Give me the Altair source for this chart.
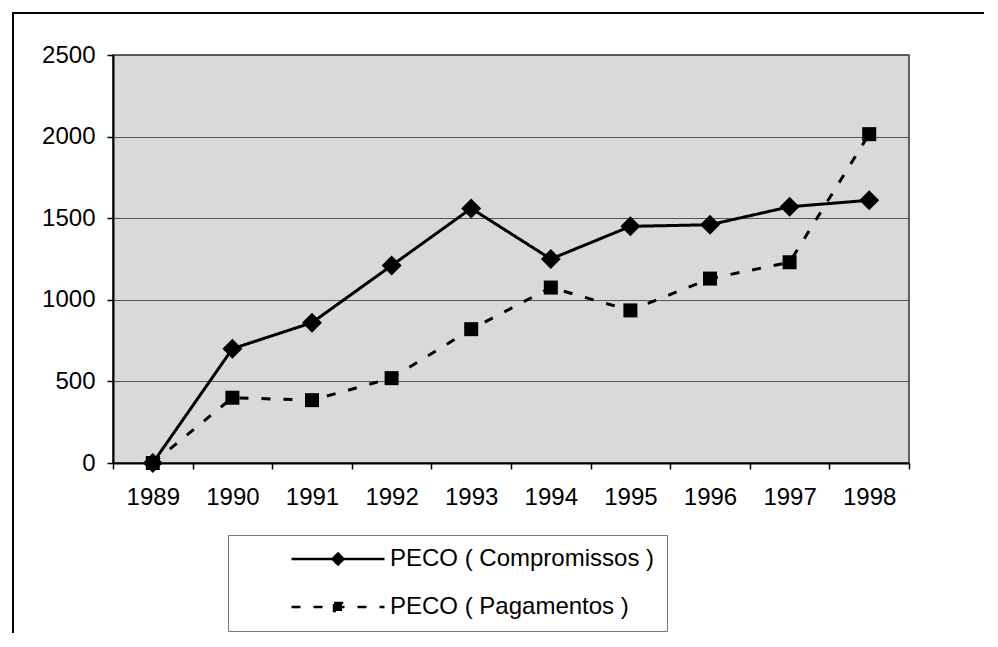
import altair as alt
import pandas as pd

# ---- data ----
years = ["1989", "1990", "1991", "1992", "1993", "1994", "1995", "1996", "1997", "1998"]
compromissos = [0, 700, 860, 1210, 1560, 1250, 1450, 1460, 1570, 1610]
pagamentos = [0, 400, 385, 520, 820, 1075, 935, 1130, 1230, 2015]
series_names = ["PECO ( Compromissos )", "PECO ( Pagamentos )"]
y_ticks = [0, 500, 1000, 1500, 2000, 2500]

rows = []
for name, vals in zip(series_names, [compromissos, pagamentos]):
    for yr, v in zip(years, vals):
        rows.append({"Ano": yr, "Serie": name, "Valor": v})
df = pd.DataFrame(rows)

FONT = "Liberation Sans"
FS = 24

x_enc = alt.X(
    "Ano:O",
    sort=years,
    scale=alt.Scale(type="band", paddingInner=0, paddingOuter=0),
    axis=alt.Axis(title=None, labelAngle=0, tickBand="extent", grid=False,
                  tickSize=6, labelPadding=16, domainWidth=2, tickWidth=1.5),
)
y_enc = alt.Y(
    "Valor:Q",
    scale=alt.Scale(domain=[0, 2500], nice=False),
    axis=alt.Axis(title=None, values=y_ticks, format="d", grid=True, tickSize=6,
                  labelPadding=12, domainWidth=2, tickWidth=1.5),
)

diamond_legend = "M-9.3,0L9.3,0M0,-1.1L1.1,0L0,1.1L-1.1,0Z"
square_legend = "M-9.3,0L9.3,0M-0.8,-0.8L0.8,-0.8L0.8,0.8L-0.8,0.8Z"
shape_expr = (
    f"datum.value === '{series_names[0]}' ? '{diamond_legend}' : '{square_legend}'"
)

legend = alt.Legend(
    title=None,
    orient="none",
    legendX=115,
    legendY=480,
    padding=12,
    rowPadding=24,
    symbolSize=100,
    symbolStrokeWidth=2.5,
    symbolOffset=86,
    labelOffset=40,
    labelFont=FONT,
    labelFontSize=FS,
    labelColor="black",
    labelLimit=500,
    strokeColor="#777777",
    fillColor="white",
    symbolType={"expr": shape_expr},
    symbolFillColor="black",
    symbolStrokeColor="black",
)

base = alt.Chart(df)

lines = base.mark_line(color="black", strokeWidth=3).encode(
    x=x_enc,
    y=y_enc,
    strokeDash=alt.StrokeDash(
        "Serie:N",
        sort=series_names,
        scale=alt.Scale(domain=series_names, range=[[1, 0], [9, 13]]),
        legend=legend,
    ),
)

pts_c = base.transform_filter(alt.datum.Serie == series_names[0]).mark_point(
    shape="diamond", size=400, filled=True, color="black", opacity=1
).encode(x=x_enc, y=y_enc)

pts_p = base.transform_filter(alt.datum.Serie == series_names[1]).mark_point(
    shape="square", size=196, filled=True, color="black", opacity=1
).encode(x=x_enc, y=y_enc)

frame = alt.Chart(pd.DataFrame({"k": [0]})).mark_rect(
    fill="transparent", stroke="black", strokeWidth=2
).encode(
    x=alt.value(-100), x2=alt.value(3000), y=alt.value(-42), y2=alt.value(3000)
)

chart = (
    alt.layer(frame, lines, pts_p, pts_c)
    .properties(
        width=796,
        height=408,
        padding={"left": 105, "top": 47, "right": 75, "bottom": 170},
        autosize=alt.AutoSizeParams(type="none"),
        background="white",
    )
    .configure_view(fill="#d9d9d9", stroke="#333333", strokeWidth=1.5)
    .configure_axis(
        labelFont=FONT,
        labelFontSize=FS,
        labelColor="black",
        domainColor="black",
        tickColor="black",
        gridColor="#555555",
        gridWidth=1,
    )
)

chart.save("out.html", embed_options={"renderer": "svg", "actions": False})
